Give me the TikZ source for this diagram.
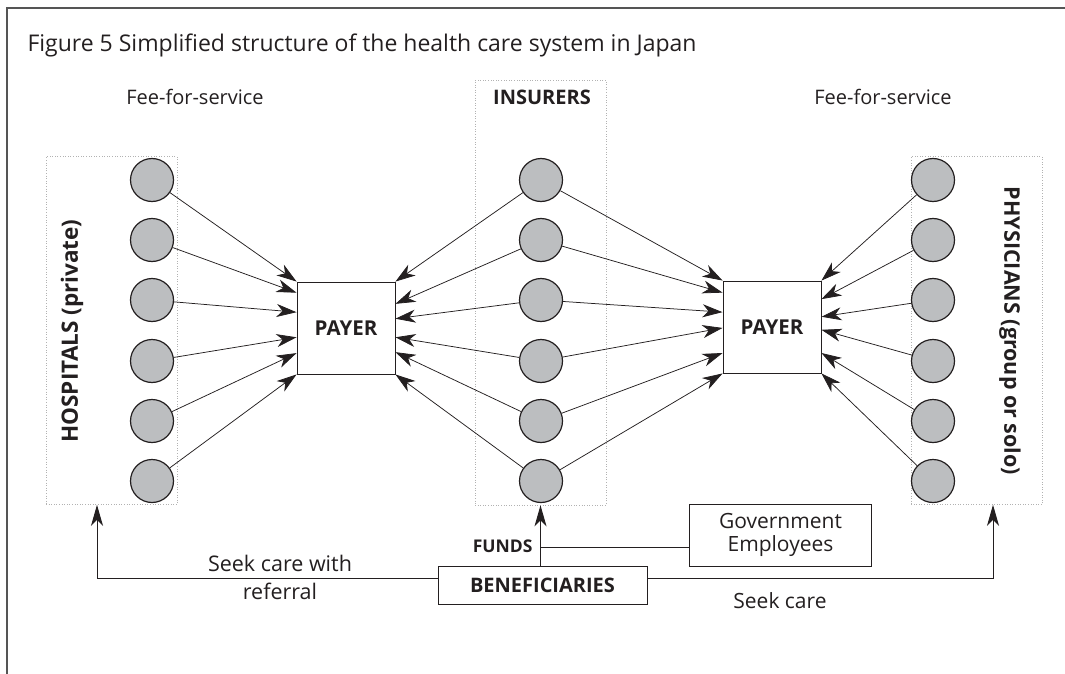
\documentclass[tikz,border=0pt]{standalone}
\usepackage{fontspec}
\setmainfont{Open Sans}
\usetikzlibrary{arrows.meta,calc}
\definecolor{ink}{HTML}{231F20}
\definecolor{disc}{HTML}{BCBEC0}
\definecolor{rim}{HTML}{555555}
\begin{document}
\begin{tikzpicture}[x=1pt,y=-1pt,
  every node/.style={text=ink},
  member/.style={circle,draw=ink,fill=disc,line width=1.2pt,minimum size=43pt,inner sep=0pt},
  payer/.style={draw=ink,line width=0.9pt,minimum width=98pt,minimum height=92pt,inner sep=0pt,
    font=\fontsize{20.5}{24}\selectfont\bfseries},
  group/.style={draw=gray!60,dotted,line width=0.6pt,inner sep=0pt},
  flow/.style={draw=ink,line width=0.75pt,-{Stealth[length=20pt,width=13pt,inset=6pt]}},
  route/.style={draw=ink,line width=1pt,-{Stealth[length=21pt,width=12pt,inset=6pt]}},
  plain/.style={draw=ink,line width=1pt},
  txt/.style={font=\fontsize{20}{24}\selectfont},
  btxt/.style={font=\fontsize{20}{24}\selectfont\bfseries},
  box/.style={draw=ink,line width=0.9pt,inner sep=0pt},
]
\useasboundingbox (0,0) rectangle (1065,674);

% outer frame (top and left rules)
\draw[rim,line width=1.8pt] (7,674) -- (7,8) -- (1065,8);

% title
\node[anchor=west,font=\fontsize{23}{28}\selectfont] (title) at (24,45)
  {Figure 5 Simplified structure of the health care system in Japan};

% column headings
\node[txt] (feeL) at (195,97) {Fee-for-service};
\node[btxt] (ins) at (542,97) {INSURERS};
\node[txt] (feeR) at (883,97) {Fee-for-service};

% dotted group frames
\node[group,minimum width=131pt,minimum height=348pt] (hospG) at (111.5,330.5) {};
\node[group,minimum width=131pt,minimum height=425pt] (insG) at (540.5,292.5) {};
\node[group,minimum width=131pt,minimum height=348pt] (physG) at (976.5,330.5) {};

\node[rotate=90,font=\fontsize{22.5}{26}\selectfont\bfseries] (hospT) at (72,331) {HOSPITALS (private)};
\node[rotate=-90,font=\fontsize{21.5}{26}\selectfont\bfseries] (physT) at (1010,331) {PHYSICIANS (group or solo)};

% payer boxes
\node[payer] (payL) at (346,328) {PAYER};
\node[payer] (payR) at (772,327) {PAYER};

% members of each group
\foreach \i/\y in {1/180,2/240,3/300,4/361,5/421,6/481}{
  \node[member] (h\i) at (152,\y) {};
  \node[member] (i\i) at (541,\y) {};
  \node[member] (p\i) at (933,\y) {};
}

% arrow targets on the payer boxes
\foreach \i/\f in {1/0,2/0.12,3/0.33,4/0.6,5/0.77,6/1}{
  \coordinate (la\i) at ($(payL.north west)!\f!(payL.south west)$);
}
\foreach \i/\f in {1/0,2/0.24,3/0.40,4/0.60,5/0.76,6/1}{
  \coordinate (lb\i) at ($(payL.north east)!\f!(payL.south east)$);
}
\foreach \i/\f in {1/0,2/0.13,3/0.34,4/0.51,5/0.78,6/1}{
  \coordinate (ra\i) at ($(payR.north west)!\f!(payR.south west)$);
}
\foreach \i/\f in {1/0,2/0.20,3/0.39,4/0.53,5/0.78,6/1}{
  \coordinate (rb\i) at ($(payR.north east)!\f!(payR.south east)$);
}

\foreach \i in {1,...,6}{
  \draw[flow] (h\i) -- (la\i);
  \draw[flow] (i\i) -- (lb\i);
  \draw[flow] (i\i) -- (ra\i);
  \draw[flow] (p\i) -- (rb\i);
}

% beneficiaries and funding
\node[box,btxt,minimum width=209pt,minimum height=38pt] (ben) at (542.5,585) {BENEFICIARIES};
\node[box,align=center,minimum width=182pt,minimum height=62pt,
  font=\fontsize{21}{23}\selectfont] (gov) at (780.5,535) {Government\\Employees};

\draw[route] (ben.north -| insG.south) -- (insG.south);
\draw[plain] ([yshift=-12pt]gov.west) -- ([yshift=-12pt]gov.west -| insG.south);
\node[anchor=east,font=\fontsize{17.5}{20}\selectfont\bfseries] (funds) at (536,546) {FUNDS};

\draw[route] ([yshift=7pt]ben.west) -| ([xshift=-14.5pt]hospG.south);
\draw[route] ([yshift=7pt]ben.east) -| ([xshift=16.5pt]physG.south);

\node[align=center,font=\fontsize{21.5}{28}\selectfont] (seekR) at (280,577) {Seek care with\\referral};
\node[font=\fontsize{21}{24}\selectfont] (seekC) at (780,601) {Seek care};
\end{tikzpicture}
\end{document}
